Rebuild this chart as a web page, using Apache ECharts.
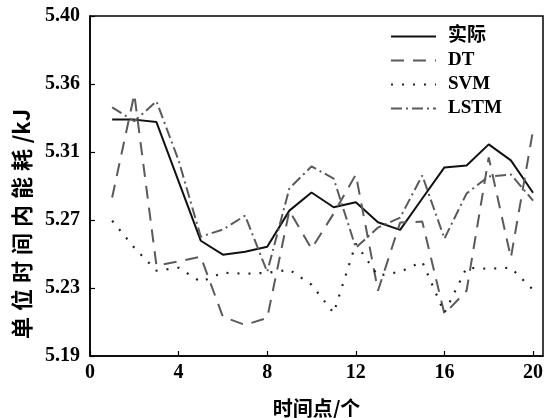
<!DOCTYPE html>
<html>
<head>
<meta charset="utf-8">
<script src="https://cdn.jsdelivr.net/npm/echarts@6/dist/echarts.min.js"></script>
<style>
html,body{margin:0;padding:0;background:#fff;}
#chart{width:545px;height:418px;}
</style>
</head>
<body>
<div id="chart"></div>
<script>
// ---- data ----
var timePoints = [1,2,3,4,5,6,7,8,9,10,11,12,13,14,15,16,17,18,19,20];
var actual = [5.336,5.336,5.3345,5.2978,5.2612,5.2526,5.2544,5.2575,5.2798,5.2910,5.2819,5.2850,5.2726,5.2679,5.2873,5.3065,5.3077,5.3207,5.3108,5.2908];
var dt     = [5.2879,5.3517,5.2458,5.2485,5.2513,5.2142,5.2092,5.2135,5.2798,5.2563,5.2780,5.3021,5.2303,5.2724,5.2730,5.2160,5.2303,5.3127,5.2507,5.3294];
var svm    = [5.2736,5.2569,5.2427,5.2445,5.2358,5.2414,5.2408,5.2414,5.2433,5.2340,5.2166,5.2594,5.2396,5.2420,5.2482,5.2166,5.2445,5.2439,5.2445,5.2309];
var lstm   = [5.3436,5.3350,5.3473,5.3108,5.2637,5.2681,5.2767,5.2420,5.2935,5.3071,5.2996,5.2569,5.2693,5.2755,5.3015,5.2625,5.2904,5.3009,5.3021,5.2860];
var seriesNames = ['实际','DT','SVM','LSTM'];
var xTickValues = [0,4,8,12,16,20];
var yTickValues = [5.19,5.232,5.274,5.316,5.358,5.40];
var yTickLabels = ['5.19','5.23','5.27','5.31','5.36','5.40'];
var xTitle = '时间点/个';
var yTitleParts = ['单','位','时','间','内','能','耗','/kJ'];

function pairs(arr){ return arr.map(function(v,i){ return [timePoints[i], v]; }); }

var serif = '"Liberation Serif","Noto Sans CJK SC",serif';
var cjkFont = '"Noto Sans CJK SC","Liberation Sans",sans-serif';
var yTitleRich = yTitleParts.map(function(c){ return (c.length>1 ? '{u|' : '{c|') + c + '}'; }).join('');

var chart = echarts.init(document.getElementById('chart'), null, {renderer:'canvas'});
var option = {
  backgroundColor:'#fff',
  animation:false,
  grid:{left:90, right:2, top:16, bottom:62, outerBoundsMode:'none', containLabel:false,
        show:true, borderColor:'#000', borderWidth:1.5, backgroundColor:'transparent'},
  legend:{
    orient:'vertical', left:385, top:22, itemWidth:45, itemHeight:14, itemGap:5,
    data:seriesNames,
    itemStyle:{opacity:0},
    textStyle:{fontFamily:serif, fontSize:19, fontWeight:'bold', color:'#000', lineHeight:16, padding:[0,0,0,7]}
  },
  xAxis:{
    type:'value', min:0, max:20.45,
    axisLine:{show:true, lineStyle:{color:'#000', width:1.5}},
    axisTick:{show:true, inside:true, length:5, customValues:xTickValues, lineStyle:{color:'#000', width:1.2}},
    axisLabel:{customValues:xTickValues, fontFamily:serif, fontSize:20, fontWeight:'bold', color:'#000', margin:7},
    splitLine:{show:false},
    name:xTitle, nameLocation:'middle', nameGap:42,
    nameTextStyle:{fontFamily:cjkFont, fontSize:20, fontWeight:'bold', color:'#000'}
  },
  yAxis:{
    type:'value', min:5.19, max:5.40,
    axisLine:{show:true, lineStyle:{color:'#000', width:1.5}},
    axisTick:{show:true, inside:true, length:5, customValues:yTickValues, lineStyle:{color:'#000', width:1.2}},
    axisLabel:{customValues:yTickValues, fontFamily:serif, fontSize:20, fontWeight:'bold', color:'#000', margin:10,
      formatter:function(v){
        var best=0, d=1e9;
        for (var i=0;i<yTickValues.length;i++){ var dd=Math.abs(yTickValues[i]-v); if(dd<d){d=dd;best=i;} }
        return yTickLabels[best];
      }},
    splitLine:{show:false}
  },
  graphic:[{
    type:'text', x:22, y:224, rotation:Math.PI/2,
    style:{
      text:yTitleRich, fill:'#000', align:'center', verticalAlign:'middle',
      rich:{
        c:{font:'bold 22px ' + cjkFont, width:28, align:'center', fill:'#000'},
        u:{font:'bold 22px ' + cjkFont, width:40, align:'center', fill:'#000'}
      }
    }
  }],
  series:[
    {name:seriesNames[0], type:'line', data:pairs(actual), symbol:'none', lineStyle:{color:'#111', width:2, type:'solid'}, itemStyle:{color:'#111'}},
    {name:seriesNames[1], type:'line', data:pairs(dt), symbol:'none', lineStyle:{color:'#5a5a5a', width:2, type:[13,9]}, itemStyle:{color:'#5a5a5a'}},
    {name:seriesNames[2], type:'line', data:pairs(svm), symbol:'none', lineStyle:{color:'#222', width:2.2, type:[2,9]}, itemStyle:{color:'#222'}},
    {name:seriesNames[3], type:'line', data:pairs(lstm), symbol:'none', lineStyle:{color:'#5a5a5a', width:2, type:[11,4,2,4]}, itemStyle:{color:'#5a5a5a'}}
  ]
};
chart.setOption(option);
</script>
</body>
</html>
